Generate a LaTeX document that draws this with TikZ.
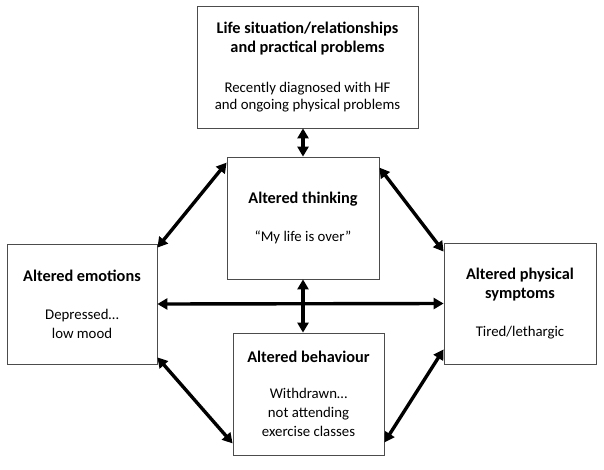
\documentclass[tikz,border=0pt]{standalone}
\usepackage{fontspec}
\setmainfont{Carlito}
\usetikzlibrary{positioning,arrows.meta}
\newcommand{\boxtitle}[1]{{\fontsize{16.3}{19}\selectfont\bfseries #1}}

\begin{document}
\begin{tikzpicture}[
                x=1pt, y=-1pt,
                box/.style={draw=black!70, line width=0.8pt, align=center, font=\fontsize{14.8}{19}\selectfont},
                link/.style={{Triangle[length=10pt,width=11pt]}-{Triangle[length=10pt,width=11pt]}, line width=3.4pt}
            ]
            \useasboundingbox (0,0) rectangle (604,469);

            \node[box, minimum width=221pt, minimum height=122pt] (life) at (307.5,67) {\boxtitle{Life situation/relationships}\\\boxtitle{and practical problems}\\[21pt]Recently diagnosed with HF\\[-2pt]and ongoing physical problems};
            \node[box, minimum width=152pt, minimum height=122pt] (thinking) at (303,218) {\boxtitle{Altered thinking}\\[19pt]``My life is over''};
            \node[box, minimum width=150pt, minimum height=120pt] (emotions) at (82,304) {\boxtitle{Altered emotions}\\[19pt]Depressed\ldots\\low mood};
            \node[box, minimum width=152pt, minimum height=121pt] (physical) at (520,303.5) {\boxtitle{Altered physical}\\\boxtitle{symptoms}\\[19pt]Tired/lethargic};
            \node[box, minimum width=151pt, minimum height=122pt] (behaviour) at (308.5,394) {\boxtitle{Altered behaviour}\\[17pt]Withdrawn\ldots\\not attending\\exercise classes};

            \draw[link] (thinking.north) -- (thinking.north |- life.south);
            \draw[link] (thinking.south) -- (thinking.south |- behaviour.north);
            \draw[link] (emotions.east) -- (physical.west);

            \draw[link] ([yshift=-4pt]emotions.north east) -- ([yshift=-6pt]thinking.north west);
            \draw[link] ([yshift=-11pt]thinking.north east) -- ([yshift=-9pt]physical.north west);
            \draw[link] ([yshift=7pt]emotions.south east) -- ([yshift=12pt]behaviour.south west);
            \draw[link] ([yshift=15pt]physical.south west) -- ([yshift=13pt]behaviour.south east);
        \end{tikzpicture}
\end{document}
